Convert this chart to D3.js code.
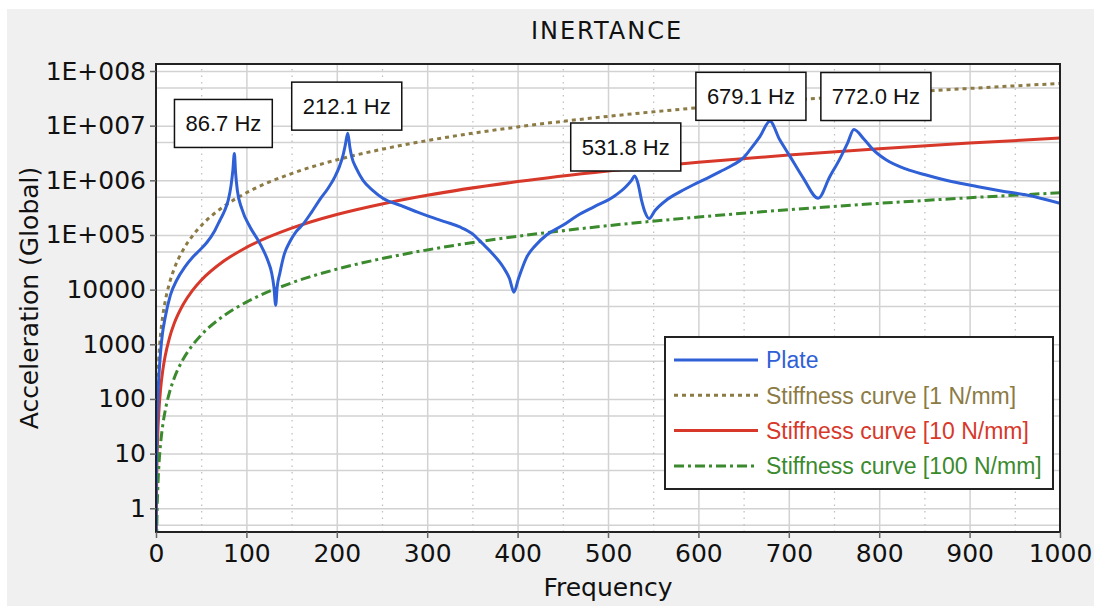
<!DOCTYPE html>
<html>
<head>
<meta charset="utf-8">
<script src="https://cdn.jsdelivr.net/npm/d3@7"></script>
<style>
  body { margin: 0; background: #fff; }
  svg { display: block; }
</style>
</head>
<body>
<div id="chart"></div>
<script>
// Plate response (Hz, acceleration)
const plateFreq = [0.1, 0.25, 0.5, 1, 2, 3, 5, 7, 10, 16, 23, 32, 41, 48, 56, 65, 71, 76, 80, 83, 85, 86.7, 88, 90, 95,
  104, 112, 118.7, 124, 128, 130.5, 132.4, 134, 137, 142, 148, 155, 163, 172, 181, 190, 198, 203, 206.5, 209.5, 212.1,
  214.5, 216.5, 222, 229, 240, 251, 272, 290, 307, 321, 336, 350, 361, 372, 384, 391, 396, 401, 410, 420, 432, 450,
  465, 485, 506, 520, 526, 529.5, 533, 537, 541, 545.5, 552, 565, 580, 594, 610, 624, 638, 650, 657, 668, 679.1,
  690, 701, 716, 732.6, 745, 756.6, 765, 772, 783, 793.5, 808, 830, 852, 880, 908, 935, 963, 1000];
const plateAcc = [0.3, 2, 6, 25, 100, 230, 700, 1500, 3000, 8000, 15000, 26000, 40000, 52000, 72000, 120000, 190000,
  280000, 440000, 800000, 1500000, 3100000, 1400000, 650000, 300000,
  140000, 85000, 53000, 33000, 20000, 11000, 5200, 11000, 20000, 45000, 75000, 115000, 160000, 260000, 440000, 700000,
  1170000, 1800000, 2700000, 4500000, 7300000,
  4000000, 2700000, 1600000, 1000000, 650000, 470000, 340000, 260000, 205000, 172000, 140000, 105000, 70000, 46000,
  26000, 16000, 9000, 16000, 39000, 65000, 100000, 150000,
  220000, 330000, 500000, 770000, 1000000, 1200000, 900000, 440000, 260000, 200000, 280000, 440000, 620000, 820000,
  1100000, 1440000, 1900000, 2600000, 3600000, 6300000, 12000000,
  5500000, 2800000, 1100000, 470000, 1140000, 2500000, 4800000, 8500000, 5700000, 3600000, 2350000, 1600000,
  1250000, 950000, 770000, 640000, 540000, 380000];

// Stiffness curves
const stiffFreq = [0.1, 0.25, 0.5, 1, 2, 3, 5, 7.5, 10, 15, 20, 30, 40, 50, 75, 100, 150, 200, 250, 300, 400, 500,
  600, 700, 800, 900, 1000];
const stiff1 = [0.59, 3.7, 14.8, 59, 237, 533, 1480, 3330, 5920, 13300, 23700, 53300, 94700, 148000, 333000,
  592000, 1330000, 2370000, 3700000, 5330000, 9470000, 14800000, 21300000, 29000000, 37900000, 48000000, 59200000];
const stiff10 = [0.059, 0.37, 1.48, 5.9, 23.7, 53.3, 148, 333, 592, 1330, 2370, 5330, 9470, 14800, 33300,
  59200, 133000, 237000, 370000, 533000, 947000, 1480000, 2130000, 2900000, 3790000, 4800000, 5920000];
const stiff100 = [0.0059, 0.037, 0.148, 0.59, 2.37, 5.33, 14.8, 33.3, 59.2, 133, 237, 533, 947, 1480, 3330,
  5920, 13300, 23700, 37000, 53300, 94700, 148000, 213000, 290000, 379000, 480000, 592000];

// Peak annotations
const peakNames = ["86.7 Hz", "212.1 Hz", "531.8 Hz", "679.1 Hz", "772.0 Hz"];
const peakFreq = [86.7, 212.1, 531.8, 679.1, 772.0];
const peakAcc = [3100000, 7300000, 1200000, 12000000, 8500000];

const xTicks = [0, 100, 200, 300, 400, 500, 600, 700, 800, 900, 1000];
const yTicks = [1, 10, 100, 1000, 10000, 1e5, 1e6, 1e7, 1e8];
const yTickLabels = ["1", "10", "100", "1000", "10000", "1E+005", "1E+006", "1E+007", "1E+008"];
const legendNames = ["Plate", "Stiffness curve [1 N/mm]", "Stiffness curve [10 N/mm]", "Stiffness curve [100 N/mm]"];

// label box nudges (layout only)
const labelDx = [-11, -1, -11, -19, 22];
const labelGap = [6, 3, 5, 1, 9];

const W = 1094, H = 606;
const margin = { top: 64, right: 34, bottom: 74, left: 156 };
const width = W - margin.left - margin.right,
      height = H - margin.top - margin.bottom;

const svg = d3.select("#chart").append("svg")
    .attr("width", W)
    .attr("height", H);

// grey panel
svg.append("rect")
    .attr("x", 7).attr("y", 9)
    .attr("width", W - 7).attr("height", H - 9)
    .attr("fill", "#f0f0f0");

const g = svg.append("g")
    .attr("transform", `translate(${margin.left},${margin.top})`);

const x = d3.scaleLinear().domain([0, 1000]).range([0, width]);
const y = d3.scaleLog().domain([0.368, 1.343e8]).range([height, 0]);

g.append("rect")
    .attr("width", width).attr("height", height)
    .attr("fill", "#fff");

// grid
const gridY = [];
yTicks.forEach(v => { gridY.push(v, v * 5); });
gridY.push(0.5);

g.append("g")
    .call(d3.axisLeft(y).tickValues(gridY.filter(v => v < 1.3e8)).tickSize(-width).tickFormat(""))
    .call(s => s.select(".domain").remove())
    .selectAll("line")
    .attr("stroke", "#d2d2d2")
    .attr("stroke-width", 1.5);

g.append("g")
    .attr("transform", `translate(0,${height})`)
    .call(d3.axisBottom(x).tickValues(d3.range(100, 1000, 100)).tickSize(-height).tickFormat(""))
    .call(s => s.select(".domain").remove())
    .selectAll("line")
    .attr("stroke", "#d2d2d2")
    .attr("stroke-width", 1.5);

g.append("g")
    .attr("transform", `translate(0,${height})`)
    .call(d3.axisBottom(x).tickValues(d3.range(50, 1000, 100)).tickSize(-height).tickFormat(""))
    .call(s => s.select(".domain").remove())
    .selectAll("line")
    .attr("stroke", "#bdbdbd")
    .attr("stroke-width", 1.2)
    .attr("stroke-dasharray", "1.5,5");

// curves
svg.append("defs").append("clipPath").attr("id", "clip")
    .append("rect").attr("width", width).attr("height", height);

const line = d3.line()
    .x(d => x(d[0]))
    .y(d => y(d[1]))
    .curve(d3.curveMonotoneX);

const series = [
  { freq: plateFreq, vals: plateAcc, color: "#3060d6", dash: null },
  { freq: stiffFreq, vals: stiff1, color: "#8c7b45", dash: "4,4" },
  { freq: stiffFreq, vals: stiff10, color: "#d7382a", dash: null },
  { freq: stiffFreq, vals: stiff100, color: "#3b8a2e", dash: "10,4,3,4" }
];

const curves = g.append("g").attr("clip-path", "url(#clip)");
// draw stiffness curves first, plate on top
[1, 2, 3, 0].forEach(i => {
  const s = series[i];
  curves.append("path")
      .datum(s.freq.map((f, j) => [f, s.vals[j]]))
      .attr("fill", "none")
      .attr("stroke", s.color)
      .attr("stroke-width", 3)
      .attr("stroke-dasharray", s.dash)
      .attr("d", line);
});

// border
g.append("rect")
    .attr("width", width).attr("height", height)
    .attr("fill", "none")
    .attr("stroke", "#222")
    .attr("stroke-width", 2);

// axes
const yAxis = g.append("g")
    .call(d3.axisLeft(y).tickValues(yTicks).tickSize(6).tickPadding(4)
      .tickFormat((d, i) => yTickLabels[i]));
yAxis.select(".domain").remove();
yAxis.selectAll("line").attr("stroke", "#666").attr("stroke-width", 1.5);
yAxis.selectAll("text")
    .attr("font-family", "DejaVu Sans")
    .attr("font-size", 25)
    .attr("fill", "#111");

const xAxis = g.append("g")
    .attr("transform", `translate(0,${height})`)
    .call(d3.axisBottom(x).tickValues(xTicks).tickSize(6).tickPadding(6).tickFormat(d3.format("d")));
xAxis.select(".domain").remove();
xAxis.selectAll("line").attr("stroke", "#666").attr("stroke-width", 1.5);
xAxis.selectAll("text")
    .attr("font-family", "DejaVu Sans")
    .attr("font-size", 25)
    .attr("fill", "#111");

// titles
svg.append("text")
    .attr("x", 607).attr("y", 39)
    .attr("text-anchor", "middle")
    .attr("font-family", "DejaVu Sans")
    .attr("font-size", 24)
    .attr("letter-spacing", 2)
    .attr("fill", "#111")
    .text("INERTANCE");

svg.append("text")
    .attr("x", margin.left + width / 2).attr("y", 596)
    .attr("text-anchor", "middle")
    .attr("font-family", "DejaVu Sans")
    .attr("font-size", 25)
    .attr("fill", "#111")
    .text("Frequency");

svg.append("text")
    .attr("transform", `translate(38,${margin.top + height / 2}) rotate(-90)`)
    .attr("text-anchor", "middle")
    .attr("font-family", "DejaVu Sans")
    .attr("font-size", 25)
    .attr("fill", "#111")
    .text("Acceleration (Global)");

// peak labels
peakNames.forEach((name, i) => {
  const px = x(peakFreq[i]) + labelDx[i];
  const bottom = y(peakAcc[i]) - labelGap[i];
  const lg = g.append("g");
  const box = lg.append("rect")
      .attr("fill", "#fff")
      .attr("stroke", "#111")
      .attr("stroke-width", 1.5);
  const t = lg.append("text")
      .attr("x", px)
      .attr("y", bottom - 24)
      .attr("dy", "0.36em")
      .attr("text-anchor", "middle")
      .attr("font-family", "Liberation Sans")
      .attr("font-size", 22)
      .attr("fill", "#111")
      .text(name);
  const tw = t.node().getComputedTextLength() + 22;
  box.attr("x", px - tw / 2).attr("y", bottom - 48)
      .attr("width", tw).attr("height", 48);
});

// legend
const legend = svg.append("g").attr("transform", "translate(665,337)");
legend.append("rect")
    .attr("width", 388).attr("height", 152)
    .attr("fill", "#fff")
    .attr("stroke", "#222")
    .attr("stroke-width", 2);

legendNames.forEach((name, i) => {
  const s = series[i];
  const ly = 23 + i * 35.3;
  legend.append("line")
      .attr("x1", 9).attr("x2", 93)
      .attr("y1", ly).attr("y2", ly)
      .attr("stroke", s.color)
      .attr("stroke-width", 3)
      .attr("stroke-dasharray", s.dash);
  legend.append("text")
      .attr("x", 101).attr("y", ly)
      .attr("dy", "0.36em")
      .attr("font-family", "Liberation Sans")
      .attr("font-size", 23)
      .attr("fill", s.color)
      .text(name);
});
</script>
</body>
</html>
